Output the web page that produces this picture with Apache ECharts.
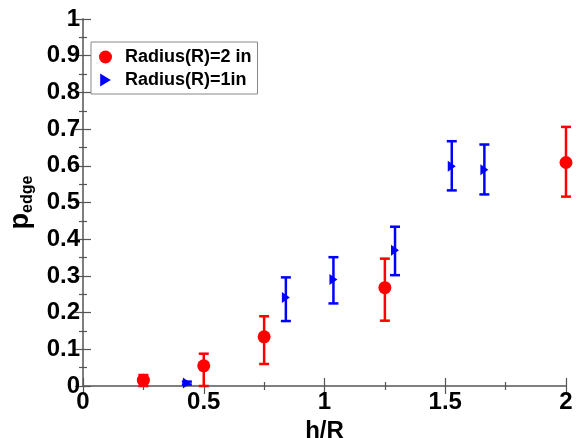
<!DOCTYPE html>
<html>
<head>
<meta charset="utf-8">
<script src="https://cdn.jsdelivr.net/npm/echarts@6/dist/echarts.min.js"></script>
<style>
  html, body { margin: 0; padding: 0; background: #fff; }
  #chart { width: 576px; height: 438px; }
</style>
</head>
<body>
<div id="chart"></div>
<script>
// Radius(R)=2 in
const redX = [0.25, 0.5, 0.75, 1.25, 2.0];
const redY = [0.016, 0.055, 0.134, 0.268, 0.609];
const redLow = [0.0, 0.0, 0.06, 0.178, 0.516];
const redHigh = [0.03, 0.088, 0.19, 0.347, 0.706];

// Radius(R)=1in
const blueX = [0.43, 0.84, 1.037, 1.292, 1.527, 1.662];
const blueY = [0.008, 0.241, 0.29, 0.37, 0.599, 0.589];
const blueLow = [0.004, 0.177, 0.225, 0.302, 0.533, 0.522];
const blueHigh = [0.012, 0.296, 0.351, 0.434, 0.667, 0.658];

const RED = '#ff0000';
const BLUE = '#0000ff';
const AXIS_COLOR = '#777';
const FONT = 'Liberation Sans, Arial, sans-serif';
const RIGHT_TRI = 'path://M0,0 L9,5.5 L0,11 Z';

const zip = (xs, ys) => xs.map((x, i) => [x, ys[i]]);
const zip3 = (xs, lo, hi) => xs.map((x, i) => [x, lo[i], hi[i]]);

const errorBar = (color) => (params, api) => {
    const x = api.value(0);
    const top = api.coord([x, api.value(2)]);
    const bot = api.coord([x, api.value(1)]);
    const half = 5;
    const style = { stroke: color, lineWidth: 2.5 };
    return {
        type: 'group',
        children: [
            { type: 'line', shape: { x1: top[0], y1: top[1], x2: bot[0], y2: bot[1] }, style: style },
            { type: 'line', shape: { x1: top[0] - half, y1: top[1], x2: top[0] + half, y2: top[1] }, style: style },
            { type: 'line', shape: { x1: bot[0] - half, y1: bot[1], x2: bot[0] + half, y2: bot[1] }, style: style }
        ]
    };
};

const tickLabel = {
    color: '#000',
    fontFamily: FONT,
    fontWeight: 'bold',
    fontSize: 24
};

const baseAxis = (extra) => Object.assign({
    type: 'value',
    axisLine: { show: true, lineStyle: { color: AXIS_COLOR, width: 1.5 } },
    axisTick: { show: true, inside: true, length: 8, lineStyle: { color: '#555', width: 1.2 } },
    minorTick: { show: true, splitNumber: 2, length: 4, lineStyle: { color: '#555', width: 1.2 } },
    splitLine: { show: false },
    minorSplitLine: { show: false }
}, extra);

const chart = echarts.init(document.getElementById('chart'));
chart.setOption({
    animation: false,
    backgroundColor: '#fff',
    grid: { left: 83, right: 10, top: 19, bottom: 52, containLabel: false, outerBoundsMode: 'none' },
    legend: {
        orient: 'vertical',
        left: 91,
        top: 42,
        padding: [6, 6, 5, 8],
        itemGap: 5,
        itemWidth: 13,
        itemHeight: 13,
        borderColor: '#888',
        borderWidth: 1,
        backgroundColor: '#fff',
        textStyle: { color: '#000', fontFamily: FONT, fontWeight: 'bold', fontSize: 18, padding: [0, 0, 0, 8] },
        data: [
            { name: 'Radius(R)=2 in', icon: 'circle' },
            { name: 'Radius(R)=1in', icon: RIGHT_TRI }
        ]
    },
    xAxis: [
        baseAxis({
            min: 0, max: 2, interval: 0.5,
            name: 'h/R',
            nameLocation: 'middle',
            nameGap: 26,
            nameTextStyle: { color: '#000', fontFamily: FONT, fontWeight: 'bold', fontSize: 24 },
            axisLabel: Object.assign({ margin: 4, formatter: (v) => String(v) }, tickLabel)
        }),
        baseAxis({ min: 0, max: 2, interval: 0.5, position: 'top', axisLabel: { show: false } })
    ],
    yAxis: [
        baseAxis({
            min: 0, max: 1, interval: 0.1,
            name: '{p|p}{s|edge}',
            nameLocation: 'middle',
            nameGap: 47,
            nameRotate: 90,
            nameTextStyle: {
                rich: {
                    p: { fontFamily: FONT, fontWeight: 'bold', fontSize: 27, color: '#000' },
                    s: { fontFamily: FONT, fontWeight: 'bold', fontSize: 16, color: '#000', padding: [14, 0, 0, 0] }
                }
            },
            axisLabel: Object.assign({ margin: 3, formatter: (v) => String(v) }, tickLabel)
        }),
        baseAxis({ min: 0, max: 1, interval: 0.1, position: 'right', axisLabel: { show: false } })
    ],
    series: [
        {
            type: 'custom',
            name: 'redErr',
            renderItem: errorBar(RED),
            data: zip3(redX, redLow, redHigh),
            encode: { x: 0, y: [1, 2] },
            z: 2
        },
        {
            type: 'custom',
            name: 'blueErr',
            renderItem: errorBar(BLUE),
            data: zip3(blueX, blueLow, blueHigh),
            encode: { x: 0, y: [1, 2] },
            z: 2
        },
        {
            type: 'scatter',
            name: 'Radius(R)=2 in',
            symbol: 'circle',
            symbolSize: 13,
            itemStyle: { color: RED, opacity: 1 },
            data: zip(redX, redY),
            z: 3
        },
        {
            type: 'scatter',
            name: 'Radius(R)=1in',
            symbol: RIGHT_TRI,
            symbolSize: [8, 11],
            itemStyle: { color: BLUE, opacity: 1 },
            data: zip(blueX, blueY),
            z: 3
        }
    ]
});
</script>
</body>
</html>
